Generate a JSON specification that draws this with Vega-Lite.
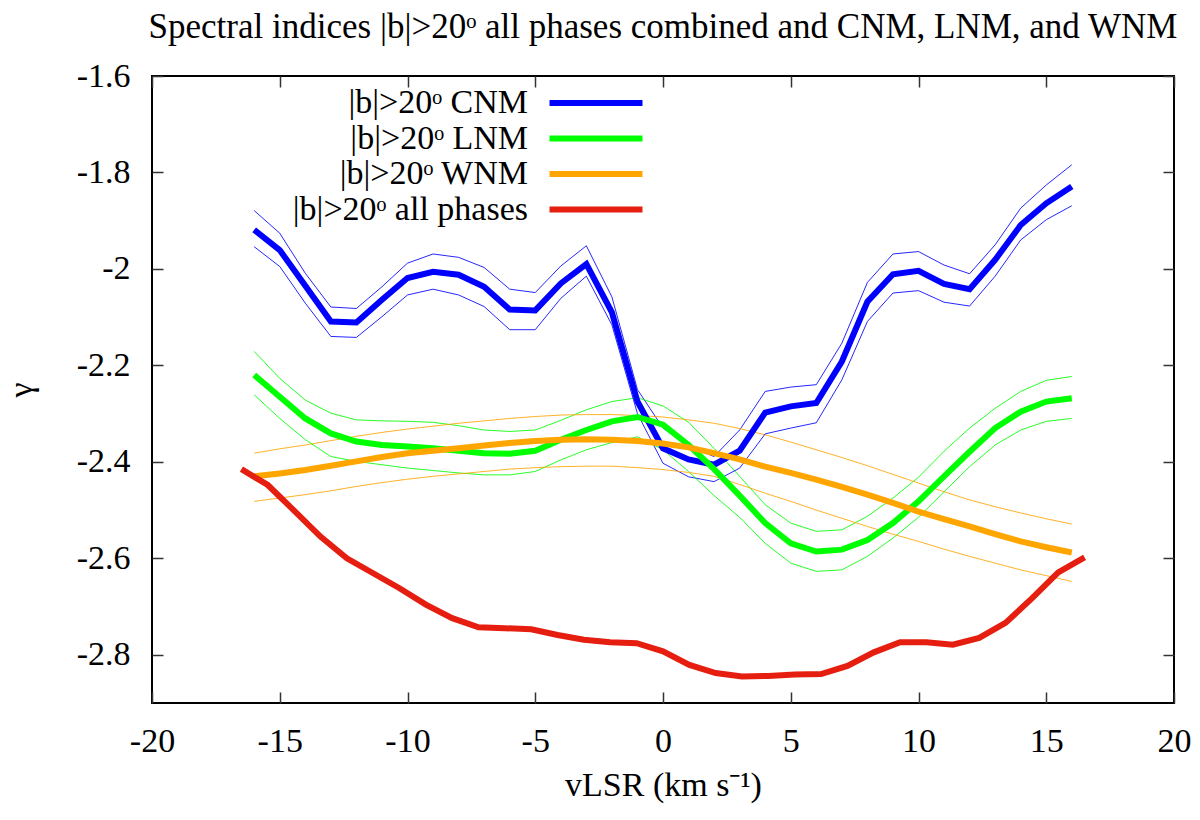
{
  "$schema": "https://vega.github.io/schema/vega-lite/v6.json",
  "width": 1022,
  "height": 627,
  "autosize": {"type": "none"},
  "padding": {"left": 152, "top": 76, "right": 26, "bottom": 117},
  "background": "white",
  "title": {
    "text": "Spectral indices |b|>20ᵒ all phases combined and CNM, LNM, and WNM",
    "font": "Liberation Serif",
    "fontSize": 35,
    "fontWeight": "normal",
    "color": "black",
    "anchor": "middle",
    "offset": 14
  },
  "config": {
    "font": "Liberation Serif",
    "view": {"stroke": "black", "strokeWidth": 2},
    "axis": {
      "grid": false,
      "domain": false,
      "labelFlush": false,
      "tickColor": "#333333",
      "tickSize": -11,
      "tickWidth": 1.5,
      "labelFont": "Liberation Serif",
      "labelFontSize": 34,
      "labelColor": "black",
      "titleFont": "Liberation Serif",
      "titleFontSize": 34,
      "titleFontWeight": "normal",
      "titleColor": "black"
    },
    "legend": {
      "orient": "none",
      "legendX": 427,
      "legendY": 10,
      "padding": 0,
      "symbolType": "M-10,0H10",
      "symbolSize": 86.5,
      "symbolStrokeWidth": 6,
      "symbolOpacity": 1,
      "rowPadding": 1.5,
      "labelFont": "Liberation Serif",
      "labelFontSize": 34,
      "labelColor": "black",
      "labelAlign": "right",
      "labelOffset": -85,
      "labelLimit": 0
    }
  },
  "data": {
    "values": [
      {"series": "|b|>20ᵒ CNM", "v": -16, "g": -1.919, "hi": -1.879, "lo": -1.954},
      {"series": "|b|>20ᵒ CNM", "v": -15, "g": -1.961, "hi": -1.926, "lo": -1.995},
      {"series": "|b|>20ᵒ CNM", "v": -14, "g": -2.035, "hi": -2.009, "lo": -2.071},
      {"series": "|b|>20ᵒ CNM", "v": -13, "g": -2.109, "hi": -2.079, "lo": -2.140},
      {"series": "|b|>20ᵒ CNM", "v": -12, "g": -2.111, "hi": -2.082, "lo": -2.142},
      {"series": "|b|>20ᵒ CNM", "v": -11, "g": -2.064, "hi": -2.037, "lo": -2.099},
      {"series": "|b|>20ᵒ CNM", "v": -10, "g": -2.019, "hi": -1.988, "lo": -2.054},
      {"series": "|b|>20ᵒ CNM", "v": -9, "g": -2.006, "hi": -1.969, "lo": -2.042},
      {"series": "|b|>20ᵒ CNM", "v": -8, "g": -2.012, "hi": -1.976, "lo": -2.054},
      {"series": "|b|>20ᵒ CNM", "v": -7, "g": -2.037, "hi": -1.997, "lo": -2.078},
      {"series": "|b|>20ᵒ CNM", "v": -6, "g": -2.084, "hi": -2.042, "lo": -2.126},
      {"series": "|b|>20ᵒ CNM", "v": -5, "g": -2.086, "hi": -2.049, "lo": -2.126},
      {"series": "|b|>20ᵒ CNM", "v": -4, "g": -2.030, "hi": -1.994, "lo": -2.061},
      {"series": "|b|>20ᵒ CNM", "v": -3, "g": -1.990, "hi": -1.952, "lo": -2.015},
      {"series": "|b|>20ᵒ CNM", "v": -2, "g": -2.090, "hi": -2.058, "lo": -2.116},
      {"series": "|b|>20ᵒ CNM", "v": -1, "g": -2.275, "hi": -2.250, "lo": -2.300},
      {"series": "|b|>20ᵒ CNM", "v": 0, "g": -2.372, "hi": -2.330, "lo": -2.403},
      {"series": "|b|>20ᵒ CNM", "v": 1, "g": -2.395, "hi": -2.368, "lo": -2.431},
      {"series": "|b|>20ᵒ CNM", "v": 2, "g": -2.406, "hi": -2.389, "lo": -2.441},
      {"series": "|b|>20ᵒ CNM", "v": 3, "g": -2.377, "hi": -2.334, "lo": -2.413},
      {"series": "|b|>20ᵒ CNM", "v": 4, "g": -2.298, "hi": -2.254, "lo": -2.342},
      {"series": "|b|>20ᵒ CNM", "v": 5, "g": -2.285, "hi": -2.245, "lo": -2.330},
      {"series": "|b|>20ᵒ CNM", "v": 6, "g": -2.278, "hi": -2.240, "lo": -2.319},
      {"series": "|b|>20ᵒ CNM", "v": 7, "g": -2.192, "hi": -2.154, "lo": -2.230},
      {"series": "|b|>20ᵒ CNM", "v": 8, "g": -2.068, "hi": -2.028, "lo": -2.109},
      {"series": "|b|>20ᵒ CNM", "v": 9, "g": -2.011, "hi": -1.969, "lo": -2.050},
      {"series": "|b|>20ᵒ CNM", "v": 10, "g": -2.004, "hi": -1.964, "lo": -2.045},
      {"series": "|b|>20ᵒ CNM", "v": 11, "g": -2.031, "hi": -1.992, "lo": -2.069},
      {"series": "|b|>20ᵒ CNM", "v": 12, "g": -2.042, "hi": -2.010, "lo": -2.077},
      {"series": "|b|>20ᵒ CNM", "v": 13, "g": -1.981, "hi": -1.950, "lo": -2.015},
      {"series": "|b|>20ᵒ CNM", "v": 14, "g": -1.909, "hi": -1.874, "lo": -1.940},
      {"series": "|b|>20ᵒ CNM", "v": 15, "g": -1.864, "hi": -1.826, "lo": -1.898},
      {"series": "|b|>20ᵒ CNM", "v": 16, "g": -1.829, "hi": -1.784, "lo": -1.869},

      {"series": "|b|>20ᵒ LNM", "v": -16, "g": -2.220, "hi": -2.171, "lo": -2.261},
      {"series": "|b|>20ᵒ LNM", "v": -15, "g": -2.265, "hi": -2.227, "lo": -2.310},
      {"series": "|b|>20ᵒ LNM", "v": -14, "g": -2.310, "hi": -2.272, "lo": -2.354},
      {"series": "|b|>20ᵒ LNM", "v": -13, "g": -2.341, "hi": -2.299, "lo": -2.389},
      {"series": "|b|>20ᵒ LNM", "v": -12, "g": -2.358, "hi": -2.313, "lo": -2.399},
      {"series": "|b|>20ᵒ LNM", "v": -11, "g": -2.365, "hi": -2.315, "lo": -2.406},
      {"series": "|b|>20ᵒ LNM", "v": -10, "g": -2.368, "hi": -2.316, "lo": -2.413},
      {"series": "|b|>20ᵒ LNM", "v": -9, "g": -2.372, "hi": -2.318, "lo": -2.418},
      {"series": "|b|>20ᵒ LNM", "v": -8, "g": -2.377, "hi": -2.325, "lo": -2.423},
      {"series": "|b|>20ᵒ LNM", "v": -7, "g": -2.382, "hi": -2.334, "lo": -2.427},
      {"series": "|b|>20ᵒ LNM", "v": -6, "g": -2.383, "hi": -2.337, "lo": -2.427},
      {"series": "|b|>20ᵒ LNM", "v": -5, "g": -2.377, "hi": -2.334, "lo": -2.420},
      {"series": "|b|>20ᵒ LNM", "v": -4, "g": -2.354, "hi": -2.314, "lo": -2.396},
      {"series": "|b|>20ᵒ LNM", "v": -3, "g": -2.334, "hi": -2.292, "lo": -2.375},
      {"series": "|b|>20ᵒ LNM", "v": -2, "g": -2.316, "hi": -2.275, "lo": -2.360},
      {"series": "|b|>20ᵒ LNM", "v": -1, "g": -2.307, "hi": -2.267, "lo": -2.348},
      {"series": "|b|>20ᵒ LNM", "v": 0, "g": -2.323, "hi": -2.284, "lo": -2.375},
      {"series": "|b|>20ᵒ LNM", "v": 1, "g": -2.365, "hi": -2.318, "lo": -2.420},
      {"series": "|b|>20ᵒ LNM", "v": 2, "g": -2.415, "hi": -2.372, "lo": -2.470},
      {"series": "|b|>20ᵒ LNM", "v": 3, "g": -2.470, "hi": -2.430, "lo": -2.515},
      {"series": "|b|>20ᵒ LNM", "v": 4, "g": -2.527, "hi": -2.489, "lo": -2.569},
      {"series": "|b|>20ᵒ LNM", "v": 5, "g": -2.569, "hi": -2.527, "lo": -2.610},
      {"series": "|b|>20ᵒ LNM", "v": 6, "g": -2.586, "hi": -2.544, "lo": -2.627},
      {"series": "|b|>20ᵒ LNM", "v": 7, "g": -2.582, "hi": -2.541, "lo": -2.624},
      {"series": "|b|>20ᵒ LNM", "v": 8, "g": -2.562, "hi": -2.513, "lo": -2.596},
      {"series": "|b|>20ᵒ LNM", "v": 9, "g": -2.527, "hi": -2.475, "lo": -2.558},
      {"series": "|b|>20ᵒ LNM", "v": 10, "g": -2.482, "hi": -2.432, "lo": -2.515},
      {"series": "|b|>20ᵒ LNM", "v": 11, "g": -2.430, "hi": -2.378, "lo": -2.462},
      {"series": "|b|>20ᵒ LNM", "v": 12, "g": -2.379, "hi": -2.330, "lo": -2.410},
      {"series": "|b|>20ᵒ LNM", "v": 13, "g": -2.330, "hi": -2.289, "lo": -2.365},
      {"series": "|b|>20ᵒ LNM", "v": 14, "g": -2.296, "hi": -2.254, "lo": -2.334},
      {"series": "|b|>20ᵒ LNM", "v": 15, "g": -2.275, "hi": -2.231, "lo": -2.316},
      {"series": "|b|>20ᵒ LNM", "v": 16, "g": -2.268, "hi": -2.223, "lo": -2.310},

      {"series": "|b|>20ᵒ WNM", "v": -16, "g": -2.430, "hi": -2.382, "lo": -2.482},
      {"series": "|b|>20ᵒ WNM", "v": -15, "g": -2.424, "hi": -2.373, "lo": -2.475},
      {"series": "|b|>20ᵒ WNM", "v": -14, "g": -2.417, "hi": -2.365, "lo": -2.468},
      {"series": "|b|>20ᵒ WNM", "v": -13, "g": -2.408, "hi": -2.356, "lo": -2.460},
      {"series": "|b|>20ᵒ WNM", "v": -12, "g": -2.399, "hi": -2.347, "lo": -2.451},
      {"series": "|b|>20ᵒ WNM", "v": -11, "g": -2.390, "hi": -2.339, "lo": -2.443},
      {"series": "|b|>20ᵒ WNM", "v": -10, "g": -2.382, "hi": -2.332, "lo": -2.436},
      {"series": "|b|>20ᵒ WNM", "v": -9, "g": -2.377, "hi": -2.326, "lo": -2.430},
      {"series": "|b|>20ᵒ WNM", "v": -8, "g": -2.372, "hi": -2.320, "lo": -2.425},
      {"series": "|b|>20ᵒ WNM", "v": -7, "g": -2.366, "hi": -2.315, "lo": -2.420},
      {"series": "|b|>20ᵒ WNM", "v": -6, "g": -2.361, "hi": -2.310, "lo": -2.415},
      {"series": "|b|>20ᵒ WNM", "v": -5, "g": -2.357, "hi": -2.306, "lo": -2.412},
      {"series": "|b|>20ᵒ WNM", "v": -4, "g": -2.354, "hi": -2.303, "lo": -2.410},
      {"series": "|b|>20ᵒ WNM", "v": -3, "g": -2.353, "hi": -2.302, "lo": -2.409},
      {"series": "|b|>20ᵒ WNM", "v": -2, "g": -2.354, "hi": -2.302, "lo": -2.409},
      {"series": "|b|>20ᵒ WNM", "v": -1, "g": -2.357, "hi": -2.304, "lo": -2.412},
      {"series": "|b|>20ᵒ WNM", "v": 0, "g": -2.362, "hi": -2.307, "lo": -2.416},
      {"series": "|b|>20ᵒ WNM", "v": 1, "g": -2.370, "hi": -2.313, "lo": -2.422},
      {"series": "|b|>20ᵒ WNM", "v": 2, "g": -2.382, "hi": -2.320, "lo": -2.430},
      {"series": "|b|>20ᵒ WNM", "v": 3, "g": -2.395, "hi": -2.331, "lo": -2.447},
      {"series": "|b|>20ᵒ WNM", "v": 4, "g": -2.410, "hi": -2.344, "lo": -2.465},
      {"series": "|b|>20ᵒ WNM", "v": 5, "g": -2.423, "hi": -2.359, "lo": -2.482},
      {"series": "|b|>20ᵒ WNM", "v": 6, "g": -2.437, "hi": -2.375, "lo": -2.500},
      {"series": "|b|>20ᵒ WNM", "v": 7, "g": -2.452, "hi": -2.391, "lo": -2.517},
      {"series": "|b|>20ᵒ WNM", "v": 8, "g": -2.468, "hi": -2.408, "lo": -2.534},
      {"series": "|b|>20ᵒ WNM", "v": 9, "g": -2.485, "hi": -2.426, "lo": -2.550},
      {"series": "|b|>20ᵒ WNM", "v": 10, "g": -2.503, "hi": -2.444, "lo": -2.565},
      {"series": "|b|>20ᵒ WNM", "v": 11, "g": -2.519, "hi": -2.462, "lo": -2.581},
      {"series": "|b|>20ᵒ WNM", "v": 12, "g": -2.534, "hi": -2.479, "lo": -2.596},
      {"series": "|b|>20ᵒ WNM", "v": 13, "g": -2.550, "hi": -2.493, "lo": -2.610},
      {"series": "|b|>20ᵒ WNM", "v": 14, "g": -2.565, "hi": -2.506, "lo": -2.624},
      {"series": "|b|>20ᵒ WNM", "v": 15, "g": -2.577, "hi": -2.518, "lo": -2.636},
      {"series": "|b|>20ᵒ WNM", "v": 16, "g": -2.588, "hi": -2.529, "lo": -2.648},

      {"series": "|b|>20ᵒ all phases", "v": -16.5, "g": -2.415},
      {"series": "|b|>20ᵒ all phases", "v": -15.469, "g": -2.448},
      {"series": "|b|>20ᵒ all phases", "v": -14.438, "g": -2.501},
      {"series": "|b|>20ᵒ all phases", "v": -13.406, "g": -2.555},
      {"series": "|b|>20ᵒ all phases", "v": -12.375, "g": -2.600},
      {"series": "|b|>20ᵒ all phases", "v": -11.344, "g": -2.631},
      {"series": "|b|>20ᵒ all phases", "v": -10.313, "g": -2.662},
      {"series": "|b|>20ᵒ all phases", "v": -9.281, "g": -2.696},
      {"series": "|b|>20ᵒ all phases", "v": -8.25, "g": -2.724},
      {"series": "|b|>20ᵒ all phases", "v": -7.219, "g": -2.743},
      {"series": "|b|>20ᵒ all phases", "v": -6.188, "g": -2.745},
      {"series": "|b|>20ᵒ all phases", "v": -5.156, "g": -2.747},
      {"series": "|b|>20ᵒ all phases", "v": -4.125, "g": -2.759},
      {"series": "|b|>20ᵒ all phases", "v": -3.094, "g": -2.769},
      {"series": "|b|>20ᵒ all phases", "v": -2.063, "g": -2.774},
      {"series": "|b|>20ᵒ all phases", "v": -1.031, "g": -2.776},
      {"series": "|b|>20ᵒ all phases", "v": 0, "g": -2.793},
      {"series": "|b|>20ᵒ all phases", "v": 1.031, "g": -2.821},
      {"series": "|b|>20ᵒ all phases", "v": 2.063, "g": -2.838},
      {"series": "|b|>20ᵒ all phases", "v": 3.094, "g": -2.845},
      {"series": "|b|>20ᵒ all phases", "v": 4.125, "g": -2.844},
      {"series": "|b|>20ᵒ all phases", "v": 5.156, "g": -2.841},
      {"series": "|b|>20ᵒ all phases", "v": 6.188, "g": -2.840},
      {"series": "|b|>20ᵒ all phases", "v": 7.219, "g": -2.823},
      {"series": "|b|>20ᵒ all phases", "v": 8.25, "g": -2.795},
      {"series": "|b|>20ᵒ all phases", "v": 9.281, "g": -2.774},
      {"series": "|b|>20ᵒ all phases", "v": 10.313, "g": -2.774},
      {"series": "|b|>20ᵒ all phases", "v": 11.344, "g": -2.779},
      {"series": "|b|>20ᵒ all phases", "v": 12.375, "g": -2.765},
      {"series": "|b|>20ᵒ all phases", "v": 13.406, "g": -2.734},
      {"series": "|b|>20ᵒ all phases", "v": 14.438, "g": -2.683},
      {"series": "|b|>20ᵒ all phases", "v": 15.469, "g": -2.629},
      {"series": "|b|>20ᵒ all phases", "v": 16.5, "g": -2.598}
    ]
  },
  "layer": [
    {
      "mark": {"type": "line", "strokeWidth": 1, "opacity": 0.85},
      "encoding": {
        "x": {
          "field": "v",
          "type": "quantitative",
          "scale": {"domain": [-20, 20], "nice": false},
          "axis": {
            "orient": "bottom",
            "values": [-20, -15, -10, -5, 0, 5, 10, 15, 20],
            "labelExpr": "'' + datum.value",
            "labelPadding": 32,
            "title": "vLSR (km s⁻¹)",
            "titlePadding": 10
          }
        },
        "y": {
          "field": "hi",
          "type": "quantitative",
          "scale": {"domain": [-2.9, -1.6], "nice": false, "zero": false},
          "axis": {
            "orient": "left",
            "values": [-1.6, -1.8, -2, -2.2, -2.4, -2.6, -2.8],
            "labelExpr": "'' + datum.value",
            "labelPadding": 33,
            "title": "γ",
            "titlePadding": 38
          }
        },
        "color": {"field": "series", "type": "nominal"}
      }
    },
    {
      "mark": {"type": "line", "strokeWidth": 1, "opacity": 0.85},
      "encoding": {
        "x": {
          "field": "v",
          "type": "quantitative",
          "axis": {
            "orient": "top",
            "values": [-20, -15, -10, -5, 0, 5, 10, 15, 20],
            "labels": false,
            "title": null
          }
        },
        "y": {
          "field": "lo",
          "type": "quantitative",
          "axis": {
            "orient": "right",
            "values": [-1.6, -1.8, -2, -2.2, -2.4, -2.6, -2.8],
            "labels": false,
            "title": null
          }
        },
        "color": {"field": "series", "type": "nominal"}
      }
    },
    {
      "mark": {"type": "line", "strokeWidth": 6},
      "encoding": {
        "x": {"field": "v", "type": "quantitative", "axis": null},
        "y": {"field": "g", "type": "quantitative", "axis": null},
        "color": {
          "field": "series",
          "type": "nominal",
          "scale": {
            "domain": ["|b|>20ᵒ CNM", "|b|>20ᵒ LNM", "|b|>20ᵒ WNM", "|b|>20ᵒ all phases"],
            "range": ["#0000ff", "#00ff00", "#ffa500", "#e51e10"]
          },
          "legend": {"title": null, "symbolStrokeWidth": 6}
        }
      }
    }
  ],
  "resolve": {"axis": {"x": "independent", "y": "independent"}}
}
